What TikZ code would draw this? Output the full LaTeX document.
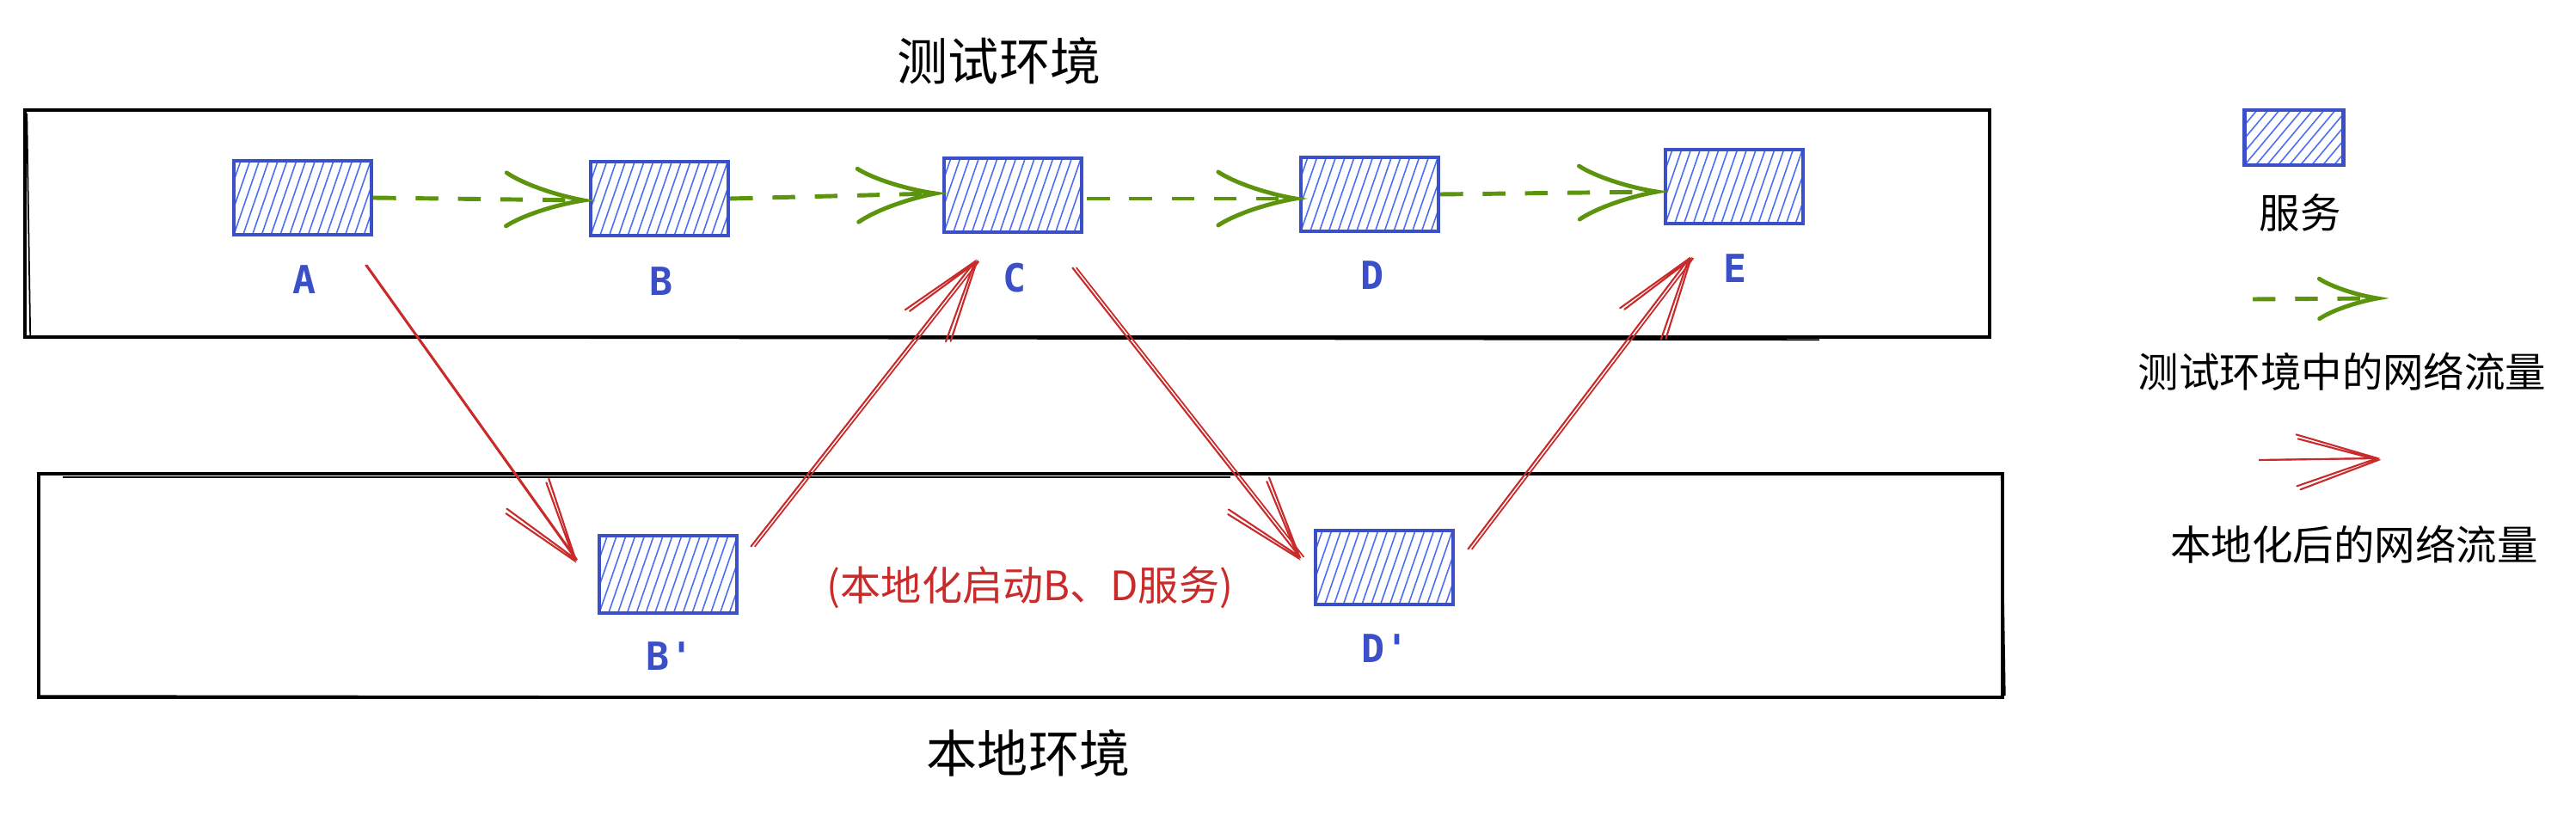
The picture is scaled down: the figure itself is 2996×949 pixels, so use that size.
\documentclass[tikz,border=0pt]{standalone}
\usepackage{fontspec}
\usetikzlibrary{calc,decorations.markings}
\newfontfamily\cjk{Noto Sans CJK SC}
\newfontfamily\lblfont{DejaVu Sans Mono}[Ligatures=TeXOff]
\definecolor{svcblue}{HTML}{3B4FC6}
\definecolor{hatchblue}{HTML}{4C6EF5}
\definecolor{flowgreen}{HTML}{5C940D}
\definecolor{flowred}{HTML}{C92A2A}
\begin{document}
\begin{tikzpicture}[x=0.01cm,y=-0.01cm,
  svc/.style={draw=svcblue, line width=1.2pt, minimum width=1.6cm, minimum height=0.86cm, inner sep=0pt,
    path picture={\foreach \i in {-3,...,15}{\draw[hatchblue, line width=0.45pt]
      ($(path picture bounding box.south west)+(\i*0.108cm,0)$) -- ++(71:1.2cm);}}},
  legsvc/.style={draw=svcblue, line width=1.2pt, minimum width=1.15cm, minimum height=0.64cm, inner sep=0pt,
    path picture={\foreach \i in {-6,...,11}{\draw[hatchblue, line width=0.45pt]
      ($(path picture bounding box.south west)+(\i*0.13cm,0)$) -- ++(50:1.2cm);}}},
  envbox/.style={draw=black, line width=1.2pt, inner sep=0pt},
  envsketch/.style={draw=black, line width=0.5pt},
  lbl/.style={text=svcblue, font=\lblfont\bfseries\fontsize{12.8}{14}\selectfont, inner sep=0pt},
  title/.style={font=\cjk\fontsize{16.8}{20}\selectfont, inner sep=0pt},
  legtext/.style={font=\cjk\fontsize{13.5}{16}\selectfont, inner sep=0pt},
  note/.style={text=flowred, font=\cjk\fontsize{13.4}{16}\selectfont, inner sep=0pt},
  garrow/.style={draw=flowgreen, line width=1.4pt, dash pattern=on 7.5pt off 6.5pt,
    postaction={decorate, decoration={markings, mark=at position 1 with {
      \draw[flowgreen, solid, line cap=round, line width=1.4pt, scale=#1]
        (-90,31) .. controls (-72,19) and (-35,6) .. (0,0)
        .. controls (-35,-6) and (-72,-19) .. (-90,-31);}}}},
  garrow/.default=1,
  rarrow/.style={draw=flowred, line width=0.6pt,
    postaction={draw=flowred, line width=0.5pt, transform canvas={xshift=#1}},
    postaction={decorate, decoration={markings, mark=at position 1 with {
      \draw[flowred, solid, line width=0.6pt, line cap=round]
        (-94,31) -- (0,0) -- (-94,-29)
        (-90,35) -- (1,2) -- (-92,-24);}}}},
  rarrow/.default=1.3pt,
]
\useasboundingbox (0,0) rectangle (2996,949);

% environments
\node[envbox, minimum width=22.83cm, minimum height=2.64cm] (test) at (1171.5,260) {};
\draw[envsketch] ($(test.north west)+(4,6)$) -- ($(test.south west)+(8,-2)$);
\draw[envsketch] ($(test.south west)+(10,-2)$) -- ($(test.south east)+(-200,1)$);
\node[envbox, minimum width=22.82cm, minimum height=2.60cm] (local) at (1187,681) {};
\draw[envsketch] ($(local.north west)+(30,6)$) -- ($(local.north east)+(-900,6)$);
\draw[envsketch] ($(local.south west)+(0,-4)$) -- ($(local.south east)+(-600,-2)$);
\draw[envsketch] ($(local.north east)+(-3,5)$) -- ($(local.south east)+(1,-4)$);

\node[title] (ttest) at (1162,71) {测试环境};
\node[title] (tlocal) at (1196,876) {本地环境};

% services in the test environment
\node[svc] (A) at (352,230) {};
\node[svc] (B) at (767,231) {};
\node[svc] (C) at (1178,227) {};
\node[svc] (D) at (1593,226) {};
\node[svc] (E) at (2017,217) {};
\node[lbl] (Al) at (354,325) {A};
\node[lbl] (Bl) at (769,327) {B};
\node[lbl] (Cl) at (1180,323) {C};
\node[lbl] (Dl) at (1596,320) {D};
\node[lbl] (El) at (2018,312) {E};

% local services
\node[svc, minimum height=0.9cm] (Bp) at (777,668) {};
\node[svc] (Dp) at (1610,660) {};
\node[lbl] (Bpl) at (779,763) {B'};
\node[lbl] (Dpl) at (1611,754) {D'};

\node[note] (nt) at (1198,683) {(本地化启动B、D服务)};

% green flow
\draw[garrow] (A.east) -- ($(B.west)+(-6,2)$);
\draw[garrow] (B.east) -- ($(C.west)+(-8,-2)$);
\draw[garrow] ($(C.east)+(4,4)$) -- ($(D.west)+(-4,5)$);
\draw[garrow] (D.east) -- ($(E.west)+(-8,6)$);

% red flow
\draw[rarrow=0.4pt] ($(A.south east)+(-9,33)$) -- ($(Bp.north west)+(-25,30)$);
\draw[rarrow] ($(Bp.north east)+(14,15)$) -- ($(C.south west)+(38,32)$);
\draw[rarrow] ($(C.south east)+(-13,39)$) -- ($(Dp.north west)+(-16,33)$);
\draw[rarrow] ($(Dp.north east)+(15,24)$) -- ($(E.south west)+(30,38)$);

% legend
\node[legsvc] (Ls) at (2668,160) {};
\node[legtext] (Lst) at (2675,247) {服务};
\coordinate (Lg1) at (2620,348);
\coordinate (Lg2) at (2765,347);
\draw[garrow=0.75] (Lg1) -- (Lg2);
\node[legtext] (Lgt) at (2724,432) {测试环境中的网络流量};
\coordinate (Lr1) at (2627,535);
\coordinate (Lr2) at (2765,533);
\draw[rarrow=0pt] (Lr1) -- (Lr2);
\node[legtext] (Lrt) at (2738,633) {本地化后的网络流量};
\end{tikzpicture}
\end{document}
